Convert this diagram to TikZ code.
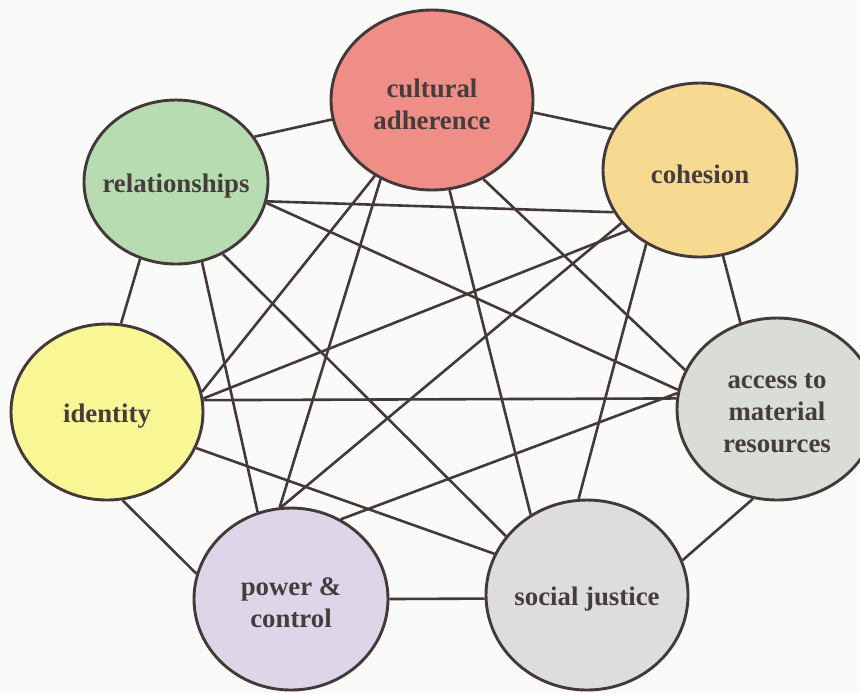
\documentclass[tikz,border=0pt]{standalone}
\usepackage{fontspec}
\setmainfont{Liberation Serif}[BoldFont={Liberation Serif Bold}]
\newfontfamily\themefont{Liberation Serif}[BoldFont={Liberation Serif Bold}]
\usetikzlibrary{shapes.geometric}

\definecolor{paper}{HTML}{FAFAF8}
\definecolor{linkcol}{HTML}{433939}
\definecolor{textcol}{HTML}{453D3D}
\definecolor{culturecol}{HTML}{EF8D87}
\definecolor{cohesioncol}{HTML}{F7DA92}
\definecolor{relationscol}{HTML}{B8DCB2}
\definecolor{identitycol}{HTML}{F9F696}
\definecolor{accesscol}{HTML}{DADCD8}
\definecolor{powercol}{HTML}{DDD6E9}
\definecolor{justicecol}{HTML}{DDDDDB}

\tikzset{
  theme/.style = {ellipse, draw=linkcol, line width=1.45pt, inner sep=0pt},
  theme text/.style = {font=\themefont\bfseries\fontsize{13.4}{16}\selectfont, text=textcol,
                       align=center, yshift=-2pt},
  link/.style = {draw=linkcol, line width=1.3pt},
}

\begin{document}
\begin{tikzpicture}[x=0.5pt, y=-0.5pt]
  \useasboundingbox[fill=paper] (0,0) rectangle (860,693);

  %% define themes
  \node[theme, fill=culturecol, minimum width=101pt, minimum height=90pt,
        label={[theme text]center:cultural\\adherence}] (culture) at (432,100) {};
  \node[theme, fill=cohesioncol, minimum width=97pt, minimum height=87pt,
        label={[theme text]center:cohesion}] (cohesion) at (700,170) {};
  \node[theme, fill=relationscol, minimum width=92pt, minimum height=82pt,
        label={[theme text]center:relationships}] (relations) at (176,182) {};
  \node[theme, fill=identitycol, minimum width=96pt, minimum height=88pt,
        label={[theme text]center:identity}] (identity) at (107,412) {};
  \node[theme, fill=accesscol, minimum width=100pt, minimum height=91pt,
        label={[theme text]center:access to\\material\\resources}] (access) at (777,409) {};
  \node[theme, fill=powercol, minimum width=97pt, minimum height=91pt,
        label={[theme text]center:power \&\\control}] (power) at (291,599) {};
  \node[theme, fill=justicecol, minimum width=101pt, minimum height=95pt,
        label={[theme text]center:social justice}] (justice) at (587,595) {};

  % draw links of cultural adherence
  \draw[link] (culture.191) -- (relations.30);
  \draw[link] (culture.-7) -- (cohesion.155);
  \draw[link] (culture.-127) -- (identity.12);
  \draw[link] (culture.-123) -- (power.97);
  \draw[link] (culture.-79) -- (justice.125);
  \draw[link] (culture.-57) -- (access.157);

  % draw links of relationships
  \draw[link] (relations.-12) -- (cohesion.206);
  \draw[link] (relations.-13) -- (access.169);
  \draw[link] (relations.-115) -- (identity.81);
  \draw[link] (relations.-72) -- (power.111);
  \draw[link] (relations.-57) -- (justice.144);

  % draw links of cohesion
  \draw[link] (cohesion.-140) -- (identity.8);
  \draw[link] (cohesion.-146) -- (power.96);
  \draw[link] (cohesion.-126) -- (justice.95);
  \draw[link] (cohesion.-75) -- (access.113);

  % draw remaining links
  \draw[link] (identity.7) -- (access.174);
  \draw[link] (identity.-80) -- (power.165);
  \draw[link] (identity.-22) -- (justice.156);
  \draw[link] (power.58) -- (access.171);
  \draw[link] (power.0) -- (justice.182);
  \draw[link] (justice.20) -- (access.-105);
\end{tikzpicture}
\end{document}
